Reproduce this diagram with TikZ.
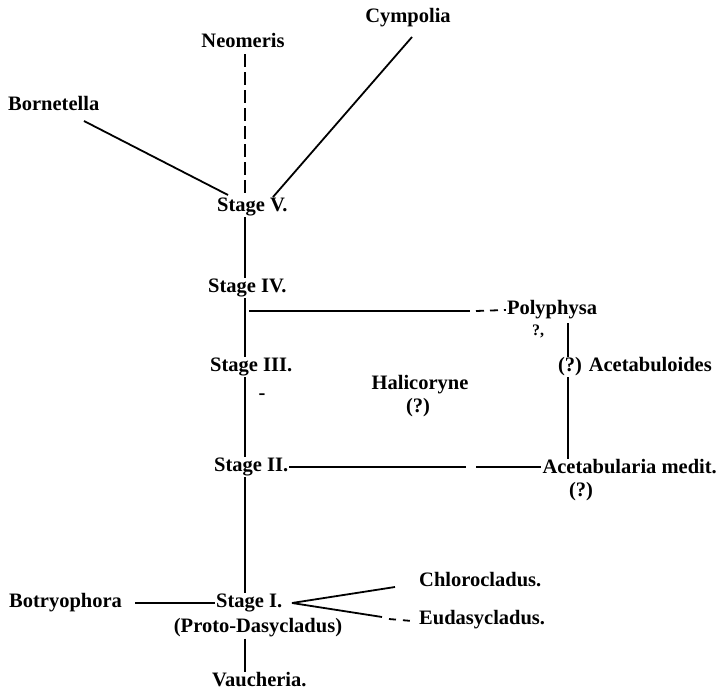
\documentclass[tikz,border=0pt]{standalone}
\usepackage{fontspec}
\setmainfont{Liberation Serif}
\begin{document}
\begin{tikzpicture}[x=1pt,y=-1pt,
  lbl/.style={font=\bfseries\fontsize{20.5}{20.5}\selectfont, inner sep=1pt},
  sml/.style={font=\bfseries\fontsize{16}{16}\selectfont, inner sep=1pt},
  ln/.style={line width=1.8pt},
  dl/.style={line width=1.6pt, dash pattern=on 13pt off 5pt}]
\useasboundingbox[fill=white] (0,0) rectangle (720,692);
% labels
\node[lbl] (neo) at (243,40) {Neomeris};
\node[lbl] (cym) at (408,18) {Cympolia};
\node[lbl, anchor=west] (bor) at (7,103) {Bornetella};
\node[lbl, anchor=west] (s5) at (216,207) {Stage V.};
\node[lbl, anchor=west] (s4) at (207,288) {Stage IV.};
\node[lbl] (poly) at (552,310) {Polyphysa};
\node[sml] (polyq) at (538,331) {?,};
\node[lbl, anchor=west] (s3) at (209,367) {Stage III.};
\node[lbl, anchor=east] (acbd) at (713,367) {(?) Acetabuloides};
\node[lbl] (hal) at (420,385) {Halicoryne};
\node[lbl] (halq) at (418,408) {(?)};
\node[lbl, anchor=west] (s2) at (213,467) {Stage II.};
\node[lbl, anchor=east] (acm) at (718,467) {Acetabularia medit.};
\node[lbl] (acmq) at (581,492) {(?)};
\node[lbl, anchor=west] (s1) at (215,603) {Stage I.};
\node[lbl] (proto) at (258,628) {(Proto-Dasycladus)};
\node[lbl, anchor=west] (vau) at (211,680) {Vaucheria.};
\node[lbl, anchor=west] (bot) at (8,603) {Botryophora};
\node[lbl, anchor=west] (chl) at (418,580) {Chlorocladus.};
\node[lbl, anchor=west] (eud) at (418,620) {Eudasycladus.};
\node[lbl] (dash3) at (262,397) {-};
% trunk
\coordinate (tx) at (245,0);
\draw[dl] (tx |- neo.south) ++(0,6) -- (tx |- s5.north);
\draw[ln] (tx |- s5.south) -- (tx |- s4.north);
\draw[ln] (tx |- s4.south) -- (tx |- s3.north);
\draw[ln] (tx |- s3.south) -- (tx |- s2.north);
\draw[ln] (tx |- s2.south) -- (tx |- s1.north);
\draw[ln] (tx |- proto.south) -- (tx |- vau.north);
% Stage V branches
\coordinate (b1) at (84,121);
\coordinate (b2) at (228,195);
\draw[ln] (b1) -- (b2);
\coordinate (c1) at (412,37);
\coordinate (c2) at (273,197);
\draw[ln] (c1) -- (c2);
% Stage IV to Polyphysa
\coordinate (h4) at (249,311);
\coordinate (h4e) at (470,311);
\draw[ln] (h4) -- (h4e);
\draw[ln, dash pattern=on 8pt off 6pt] (h4e) ++(6,0) -- (poly.west);
% Polyphysa - Acetabularia column
\coordinate (vx) at (568,0);
\draw[ln] (vx |- polyq.north) -- (vx |- acbd.north);
\draw[ln] (vx |- acbd.south) -- (vx |- acm.north);
% Stage II to Acetabularia
\draw[ln] (s2.east) -- (466,467);
\draw[ln] (476,467) -- (acm.west);
% Stage I
\draw[ln] (bot.east) ++(12,0) -- (s1.west);
\coordinate (w) at (292,603);
\draw[ln] (w) -- (395,587);
\draw[ln] (w) -- (382,617);
\draw[ln, dash pattern=on 7pt off 7pt] (389,619) -- (412,621);
\end{tikzpicture}
\end{document}
